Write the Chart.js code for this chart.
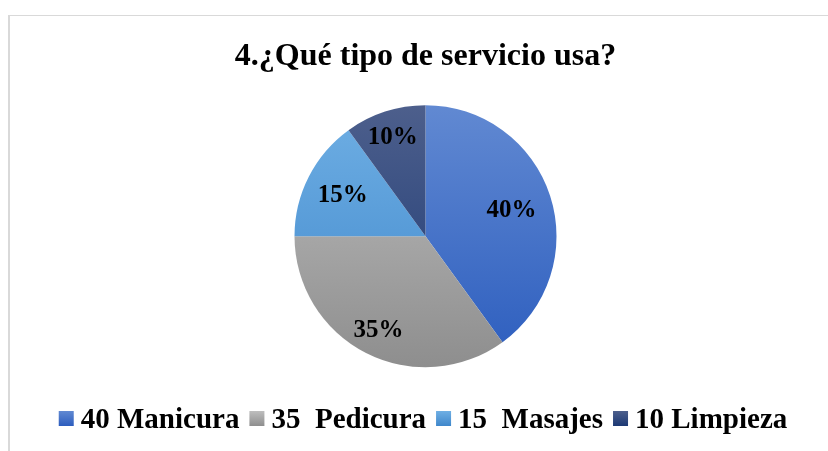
<!DOCTYPE html>
<html>
<head>
<meta charset="utf-8">
<script src="https://cdn.jsdelivr.net/npm/chart.js@4.4.1/dist/chart.umd.min.js"></script>
<style>
  html, body { margin: 0; padding: 0; background: #ffffff; }
  #wrap { width: 828px; height: 451px; }
</style>
</head>
<body>
<div id="wrap"><canvas id="myChart" width="828" height="451"></canvas></div>
<script>
const titleText = "4.¿Qué tipo de servicio usa?";
const categories = ["40 Manicura", "35  Pedicura", "15  Masajes", "10 Limpieza"];
const values = [40, 35, 15, 10];

const flatColors = ["#3E6CC6", "#A3A3A3", "#559AD8", "#26427F"];
const topColors = ["#6189D2", "#BEBEBE", "#6FAFE4", "#4D5F8C"];
const bottomColors = ["#2C5DBE", "#8E8E8E", "#3F87CB", "#1C3974"];
const labelRadius = [0.69, 0.79, 0.71, 0.81];
const PIE_R = 131;
const FONT = "'Liberation Serif', 'Times New Roman', serif";

function sliceColor(ctx) {
  let i = ctx.dataIndex;
  let area = ctx.chart.chartArea;
  if (!area) return flatColors[i];
  let cy = (area.top + area.bottom) / 2;
  let g = ctx.chart.ctx.createLinearGradient(0, cy - PIE_R, 0, cy + PIE_R);
  g.addColorStop(0, topColors[i]);
  g.addColorStop(1, bottomColors[i]);
  return g;
}

const framePlugin = {
  id: "frame",
  beforeDraw(chart) {
    let c = chart.ctx;
    c.save();
    c.fillStyle = "#ffffff";
    c.fillRect(0, 0, chart.width, chart.height);
    c.fillStyle = "#D9D9D9";
    c.fillRect(8, 15, 2, chart.height - 15);
    c.fillRect(8, 15, chart.width - 8, 1);
    c.restore();
  }
};

const percentPlugin = {
  id: "percentLabels",
  afterDatasetsDraw(chart) {
    let c = chart.ctx;
    let meta = chart.getDatasetMeta(0);
    let total = values.reduce((a, b) => a + b, 0);
    c.save();
    c.font = "bold 25px " + FONT;
    c.fillStyle = "#000000";
    c.textAlign = "center";
    c.textBaseline = "middle";
    meta.data.forEach(function (arc, i) {
      let p = arc.getProps(["x", "y", "startAngle", "endAngle", "outerRadius"], true);
      let mid = (p.startAngle + p.endAngle) / 2;
      let r = p.outerRadius * labelRadius[i];
      let pct = Math.round(values[i] / total * 100) + "%";
      c.fillText(pct, p.x + Math.cos(mid) * r, p.y + Math.sin(mid) * r + 2);
    });
    c.restore();
  }
};

// legend drawn by hand so the box-to-text gap matches the original
const legendPlugin = {
  id: "bottomLegend",
  afterDraw(chart) {
    let c = chart.ctx;
    c.save();
    c.font = "bold 29px " + FONT;
    c.textBaseline = "alphabetic";
    c.textAlign = "left";
    let box = 15, gap = 7, spacing = 10;
    let widths = categories.map((t) => c.measureText(t).width);
    let total = widths.reduce((a, b) => a + b, 0) + categories.length * (box + gap) + (categories.length - 1) * spacing;
    let x = 423 - total / 2;
    let baseline = 428;
    categories.forEach(function (t, i) {
      let g = c.createLinearGradient(0, baseline - 17, 0, baseline - 2);
      g.addColorStop(0, topColors[i]);
      g.addColorStop(1, bottomColors[i]);
      c.fillStyle = g;
      c.fillRect(x, baseline - 17, box, box);
      x += box + gap;
      c.fillStyle = "#000000";
      c.fillText(t, x, baseline);
      x += widths[i] + spacing;
    });
    c.restore();
  }
};

var chartInsertion = document.getElementById("myChart").getContext("2d");
var serviceChart = new Chart(chartInsertion, {
  type: "pie",
  data: {
    labels: categories,
    datasets: [
      {
        data: values,
        backgroundColor: sliceColor,
        borderWidth: 0,
        radius: PIE_R,
      },
    ],
  },
  options: {
    responsive: false,
    animation: false,
    layout: { padding: { top: 20, left: 23, right: 0, bottom: 56 } },
    plugins: {
      tooltip: { enabled: false },
      title: {
        display: true,
        text: titleText,
        color: "#000000",
        font: { family: FONT, size: 32, weight: "bold", lineHeight: 1.2 },
        padding: { top: 18, bottom: 1 },
      },
      legend: { display: false },
    },
  },
  plugins: [framePlugin, percentPlugin, legendPlugin],
});
</script>
</body>
</html>
